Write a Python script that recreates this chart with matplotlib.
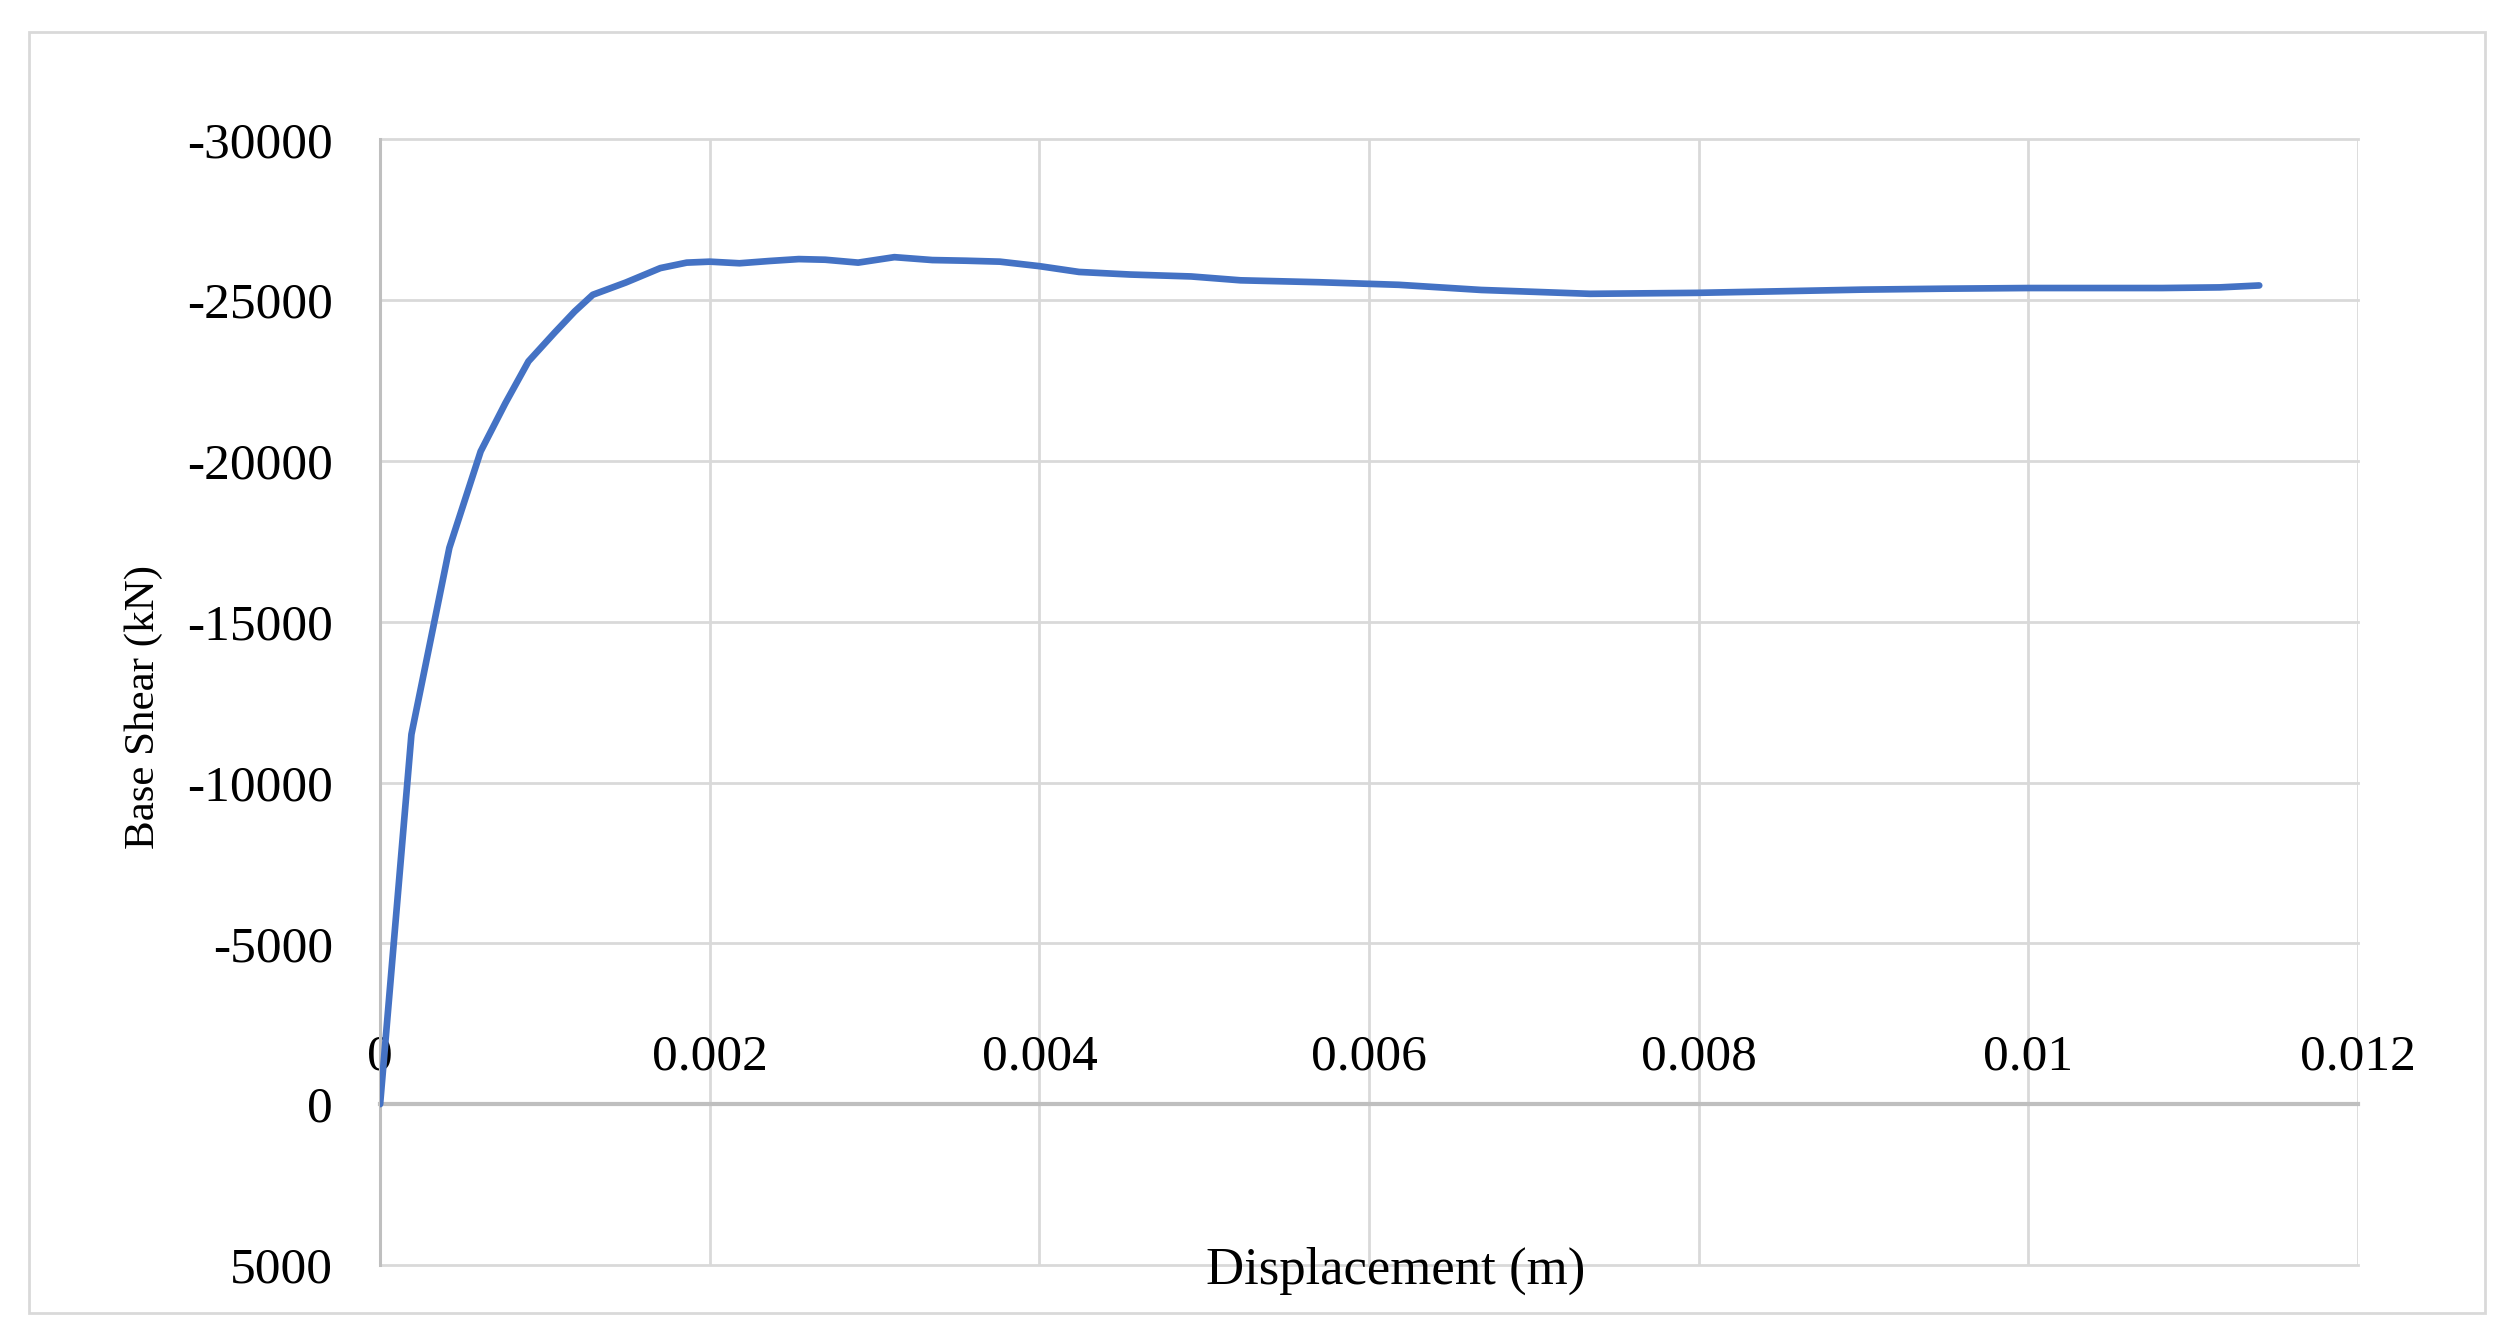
import matplotlib
matplotlib.use("Agg")
import matplotlib.pyplot as plt
from matplotlib.patches import Rectangle

# pushover curve
disp = [0, 0.00019, 0.00042, 0.00061, 0.00076, 0.0009, 0.00106, 0.00118, 0.00129,
        0.00149, 0.0017, 0.00186, 0.002, 0.00218, 0.00236, 0.00254, 0.0027, 0.0029,
        0.00312, 0.00335, 0.00355, 0.00376, 0.004, 0.00424, 0.00455, 0.00492, 0.00522,
        0.0057, 0.00618, 0.00668, 0.00734, 0.00799, 0.0085, 0.00899, 0.0095, 0.01,
        0.01081, 0.01116, 0.0114]
shear = [0, -11500, -17300, -20300, -21800, -23100, -24000, -24650, -25170,
         -25550, -26000, -26170, -26200, -26150, -26220, -26280, -26260, -26170,
         -26340, -26250, -26230, -26200, -26060, -25880, -25800, -25740, -25620,
         -25560, -25480, -25320, -25200, -25230, -25280, -25330, -25360, -25380,
         -25380, -25400, -25460]

x_ticks = [0, 0.002, 0.004, 0.006, 0.008, 0.01, 0.012]
x_labels = ["0", "0.002", "0.004", "0.006", "0.008", "0.01", "0.012"]
y_ticks = [-30000, -25000, -20000, -15000, -10000, -5000, 0, 5000]
y_labels = ["-30000", "-25000", "-20000", "-15000", "-10000", "-5000", "0", "5000"]

plt.rcParams['font.family'] = ['Liberation Serif', 'DejaVu Serif']

fig = plt.figure(figsize=(25.14, 13.41), dpi=100)
ax = fig.add_axes([0.1512, 0.0567, 0.7868, 0.8393])

ax.plot(disp, shear, color="#4472C4", linewidth=4.8, solid_joinstyle="round",
        solid_capstyle="round", zorder=3)

ax.set_xlim(0, 0.012)
ax.set_ylim(5000, -30000)
ax.set_xticks(x_ticks)
ax.set_xticklabels(x_labels)
ax.set_yticks(y_ticks)
ax.set_yticklabels(y_labels)

ax.grid(True, color="#d9d9d9", linewidth=2)
ax.set_axisbelow(True)
for gl in ax.get_xgridlines() + ax.get_ygridlines():
    gl.set_clip_on(False)

ax.spines["right"].set_visible(False)
ax.spines["bottom"].set_visible(False)
ax.spines["top"].set_position(("data", 0))
ax.spines["top"].set_color("#bfbfbf")
ax.spines["top"].set_linewidth(3)
ax.spines["left"].set_color("#bfbfbf")
ax.spines["left"].set_linewidth(2.2)

# x labels sit above the zero line
ax.xaxis.tick_top()
ax.tick_params(axis="x", length=0, pad=17, labelsize=37, labelcolor="black")
ax.tick_params(axis="y", length=0, pad=34, labelsize=37, labelcolor="black")

fig.text(0.5553, 0.0522, "Displacement (m)", fontsize=38, ha="center", va="center")
fig.text(0.0573, 0.4728, "Base Shear (kN)", fontsize=31, ha="center", va="center",
         rotation=90)

# light frame around the whole chart
fig.add_artist(Rectangle((0.0115, 0.0209), 0.977, 0.955, transform=fig.transFigure,
                         fill=False, edgecolor="#d9d9d9", linewidth=2))

fig.savefig("out.png", dpi=100)
